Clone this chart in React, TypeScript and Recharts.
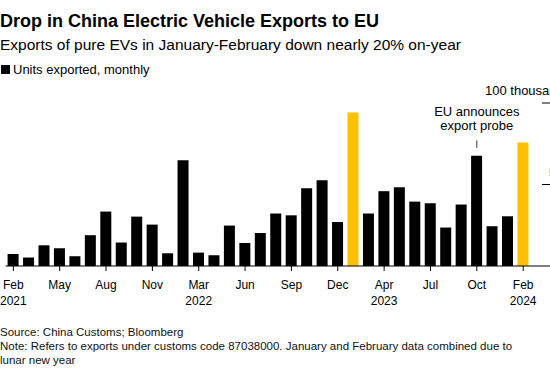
import React from "react";
import { Bar, BarChart, Cell, ReferenceLine, XAxis, YAxis } from "recharts";

// Jan and Feb are combined (lunar new year), so every year starts at Feb
const MONTHS = [
  "Feb 2021", "Mar 2021", "Apr 2021", "May 2021", "Jun 2021", "Jul 2021",
  "Aug 2021", "Sep 2021", "Oct 2021", "Nov 2021", "Dec 2021",
  "Feb 2022", "Mar 2022", "Apr 2022", "May 2022", "Jun 2022", "Jul 2022",
  "Aug 2022", "Sep 2022", "Oct 2022", "Nov 2022", "Dec 2022",
  "Feb 2023", "Mar 2023", "Apr 2023", "May 2023", "Jun 2023", "Jul 2023",
  "Aug 2023", "Sep 2023", "Oct 2023", "Nov 2023", "Dec 2023",
  "Feb 2024",
];

// units exported, monthly
const UNITS = [
  7400, 5200, 12700, 10900, 6000, 18900, 33400, 14400, 30300, 25400, 7800,
  64900, 8200, 6600, 24800, 14100, 20300, 32200, 31100, 47700, 52600, 27000,
  94200, 32200, 45900, 48300, 39500, 38500, 23600, 37700, 67600, 24400, 30500,
  75800,
];

const HIGHLIGHT = ["Feb 2023", "Feb 2024"];
const YEAR_TICKS = ["Feb 2021", "Mar 2022", "Apr 2023", "Feb 2024"];
const Y_TICKS = [0, 50000, 100000];
const Y_LABELS: Record<number, string> = { 50000: "50", 100000: "100 thousand" };
const PROBE_MONTH = "Oct 2023";

const data = MONTHS.map((month, i) => ({ month, units: UNITS[i] }));

const FONT = "'Liberation Sans', Arial, sans-serif";
const YELLOW = "#FFC000";

/* eslint-disable @typescript-eslint/no-explicit-any */
function MonthTick({ x, y, payload }: any) {
  const [m, yr] = String(payload.value).split(" ");
  return (
    <g fontFamily={FONT} fontSize={12} fill="#000" textAnchor="middle">
      <text x={x} y={y} dy={15.5}>
        {m}
      </text>
      {YEAR_TICKS.includes(payload.value) && (
        <text x={x} y={y} dy={31.5}>
          {yr}
        </text>
      )}
    </g>
  );
}

// right-hand ticks; the 0 tick just carries the baseline on to the edge
function ValueTick({ y, payload }: any) {
  const v = payload.value as number;
  const label = Y_LABELS[v];
  return (
    <g fontFamily={FONT} fontSize={13} fill="#000">
      <line x1={542} x2={550} y1={y} y2={y} stroke="#000" />
      {label && (
        <text x={v === 100000 ? 485 : 549} y={y - 8}>
          {label}
        </text>
      )}
    </g>
  );
}

function ProbeLabel({ viewBox }: any) {
  const cx = viewBox.x + viewBox.width / 2;
  return (
    <g fontFamily={FONT} fontSize={13} fill="#000" textAnchor="middle">
      <text x={cx} y={viewBox.y - 24}>EU announces</text>
      <text x={cx} y={viewBox.y - 10}>export probe</text>
    </g>
  );
}
/* eslint-enable @typescript-eslint/no-explicit-any */

export default function App() {
  return (
    <div
      style={{
        position: "fixed",
        top: 0,
        left: 0,
        width: 550,
        height: 378,
        background: "#fff",
        fontFamily: FONT,
        color: "#000",
        overflow: "hidden",
      }}
    >
      <BarChart
        width={550}
        height={378}
        data={data}
        margin={{ top: 103, right: 0, bottom: 72, left: 5.6 }}
        style={{ position: "absolute", top: 0, left: 0 }}
      >
        <XAxis
          dataKey="month"
          interval={2}
          height={40}
          padding={{ left: 0, right: 11.1 }}
          tickSize={5}
          stroke="#000"
          tick={<MonthTick />}
        />
        <YAxis
          orientation="right"
          width={8}
          domain={[0, 100000]}
          ticks={Y_TICKS}
          interval={0}
          axisLine={false}
          tickLine={false}
          tick={<ValueTick />}
        />
        <Bar dataKey="units" barSize={11} isAnimationActive={false}>
          {data.map((d) => (
            <Cell
              key={d.month}
              fill={HIGHLIGHT.includes(d.month) ? YELLOW : "#000"}
            />
          ))}
        </Bar>
        <ReferenceLine
          segment={[
            { x: PROBE_MONTH, y: 72500 },
            { x: PROBE_MONTH, y: 77000 },
          ]}
          stroke="#333"
          label={<ProbeLabel />}
        />
      </BarChart>

      <div
        style={{
          position: "absolute",
          left: 0,
          top: 11.5,
          fontSize: 18,
          fontWeight: 700,
          lineHeight: 1,
          whiteSpace: "nowrap",
        }}
      >
        Drop in China Electric Vehicle Exports to EU
      </div>
      <div
        style={{
          position: "absolute",
          left: 0,
          top: 37,
          fontSize: 15.5,
          lineHeight: 1,
          whiteSpace: "nowrap",
        }}
      >
        Exports of pure EVs in January-February down nearly 20% on-year
      </div>
      <div
        style={{
          position: "absolute",
          left: 0,
          top: 63,
          fontSize: 13,
          lineHeight: 1,
          whiteSpace: "nowrap",
          display: "flex",
          alignItems: "center",
        }}
      >
        <span
          style={{
            display: "inline-block",
            width: 9,
            height: 9,
            background: "#000",
            marginLeft: 1,
            marginRight: 3,
          }}
        />
        Units exported, monthly
      </div>
      <div
        style={{
          position: "absolute",
          left: 0,
          top: 324.6,
          fontSize: 11.5,
          lineHeight: "14.3px",
          whiteSpace: "nowrap",
          color: "#111",
        }}
      >
        Source: China Customs; Bloomberg
        <br />
        Note: Refers to exports under customs code 87038000. January and
        February data combined due to
        <br />
        lunar new year
      </div>
    </div>
  );
}
